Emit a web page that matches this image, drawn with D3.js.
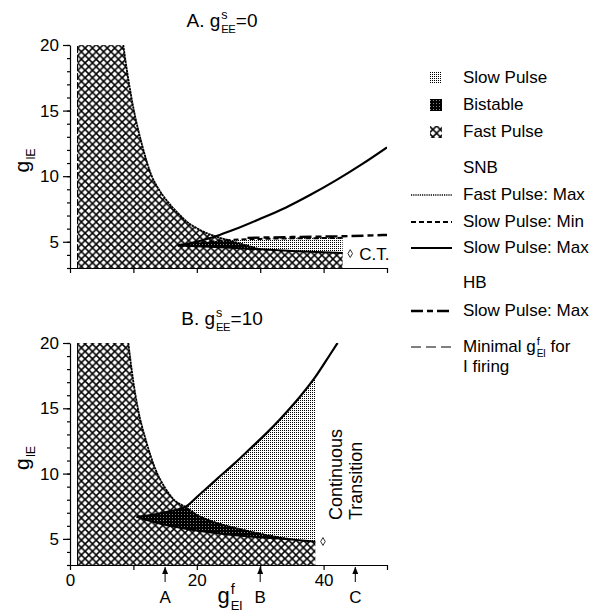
<!DOCTYPE html>
<html lang="en">
<head>
<meta charset="UTF-8">
<title>Fast / slow pulse regions in the gEI - gIE plane</title>
<script src="https://d3js.org/d3.v7.min.js"></script>
<style>
  body { margin: 0; background: #fff; }
  svg { display: block; font-family: "Liberation Sans", Arial, sans-serif; }
  .axis text { font-size: 17px; fill: #000; font-family: "Liberation Sans", Arial, sans-serif; }
  .axis path, .axis line { stroke: #000; stroke-width: 1.2; }
  .lbl { font-size: 17px; fill: #000; white-space: pre; }
</style>
</head>
<body>
<svg id="chart" width="609" height="612"></svg>
<script>
// ---- values: [gEI, gIE] ----
const xTicks = [0, 10, 20, 30, 40, 50];
const xTickLabels = [0, 20, 40];
const yMinorTicks = [3, 4, 5, 6, 7, 8, 9, 10, 11, 12, 13, 14, 15, 16, 17, 18, 19, 20];
const yMajorTicks = [5, 10, 15, 20];

const minFiringEI = 1.2;   // minimal gEI for I firing (left edge)

// panel A, gEE = 0
const fastA = [[8.4, 20], [9, 18], [10, 15.2], [11.3, 12.5], [12.9, 10], [14, 9.0], [15.5, 8.0],
               [17, 7.2], [18.5, 6.5], [20.5, 5.9], [23, 5.4], [25, 5.12], [27.5, 4.77], [30, 4.42]];
const riseA = [[17, 4.72], [20, 5.0], [23, 5.42], [26, 5.95], [30, 6.75], [34, 7.6], [38, 8.6],
               [42, 9.7], [46, 10.9], [50, 12.2]];
const lowA  = [[17, 4.72], [22, 4.62], [26, 4.52], [30, 4.42], [35, 4.3], [40, 4.2], [43, 4.15]];
const minA  = [[17, 4.72], [20, 4.9], [23, 5.05], [25, 5.12], [27, 5.18], [30, 5.22], [35, 5.26],
               [40, 5.28], [43, 5.3]];
const hbA   = [[28, 5.3], [35, 5.36], [43, 5.42], [50, 5.52]];
const ctA   = [44.2, 4.1];

// panel B, gEE = 10
const fastB = [[9.2, 20], [10, 17], [10.7, 15], [12, 12.5], [13.5, 10.3], [15, 8.9], [16.5, 7.95],
               [18.2, 7.45], [20, 6.85], [23, 6.25], [26, 5.85], [30, 5.4], [35, 4.95]];
const riseB = [[10.5, 6.7], [13, 6.85], [15.5, 7.1], [18.2, 7.45], [20, 8.2], [23.2, 9.6],
               [26, 10.8], [28.4, 11.9], [31, 13.1], [33.2, 14.2], [36.3, 15.9], [38.7, 17.4],
               [41, 19.1], [42.2, 20]];
const lowB  = [[10.5, 6.7], [14, 6.2], [18, 5.8], [22, 5.5], [26, 5.28], [30, 5.12], [35, 4.95],
               [38.7, 4.78]];
const ctB   = [39.9, 4.8];

const arrowMarks = [{ label: "A", x: 15 }, { label: "B", x: 30 }, { label: "C", x: 45 }];

const legendAreas = [
  { label: "Slow Pulse", fill: "url(#slow)" },
  { label: "Bistable", fill: "url(#bist)" },
  { label: "Fast Pulse", fill: "url(#hatch)" }
];
const legendLines = [
  { head: "SNB" },
  { label: "Fast Pulse: Max", dash: "1.2,1", width: 1.6 },
  { label: "Slow Pulse: Min", dash: "5,3", width: 2 },
  { label: "Slow Pulse: Max", dash: null, width: 2 },
  { head: "HB" },
  { label: "Slow Pulse: Max", dash: "12,4,6,4", width: 2.6 },
  { rich: true, dash: "10,5", width: 1 }
];

// ---- setup ----
const svg = d3.select("#chart");
const x = d3.scaleLinear().domain([0, 50]).range([70, 387]);
const panels = [
  { y: d3.scaleLinear().domain([3, 20]).range([268, 45]), top: 45, bottom: 268, id: "A" },
  { y: d3.scaleLinear().domain([3, 20]).range([565, 343]), top: 343, bottom: 565, id: "B" }
];

const defs = svg.append("defs");
// cross hatch
const ph = defs.append("pattern").attr("id", "hatch").attr("patternUnits", "userSpaceOnUse")
  .attr("width", 7.4).attr("height", 7.4);
ph.append("rect").attr("width", 7.4).attr("height", 7.4).attr("fill", "#fff");
ph.append("path").attr("d", "M-1,-1L8.4,8.4M-1,8.4L8.4,-1").attr("stroke", "#000").attr("stroke-width", 1.5);
// stipple
const ps = defs.append("pattern").attr("id", "slow").attr("patternUnits", "userSpaceOnUse")
  .attr("width", 2).attr("height", 2);
ps.append("rect").attr("width", 2).attr("height", 2).attr("fill", "#fff");
ps.append("rect").attr("width", 1).attr("height", 1).attr("fill", "#000");
// bistable
const pb = defs.append("pattern").attr("id", "bist").attr("patternUnits", "userSpaceOnUse")
  .attr("width", 3).attr("height", 3);
pb.append("rect").attr("width", 3).attr("height", 3).attr("fill", "#000");
pb.append("rect").attr("x", 1).attr("y", 1).attr("width", 1).attr("height", 1).attr("fill", "#888");
// arrow head
defs.append("marker").attr("id", "arr").attr("viewBox", "0 0 6 8").attr("refX", 3).attr("refY", 0)
  .attr("markerWidth", 6).attr("markerHeight", 8).attr("markerUnits", "userSpaceOnUse").attr("orient", "0")
  .append("path").attr("d", "M0,7L3,0L6,7Z").attr("fill", "#000");

// text with stacked sup/sub parts
function rich(parent, parts, px, py, size, anchor, rot) {
  const g = parent.append("g");
  let cx = 0;
  parts.forEach(p => {
    if (p.t !== undefined) {
      const t = g.append("text").attr("x", cx).attr("y", 0).style("font-size", size + "px")
        .style("white-space", "pre").text(p.t);
      cx += t.node().getComputedTextLength();
    } else {
      const s = size * 0.66;
      let w = 0;
      if (p.sup) {
        const t = g.append("text").attr("x", cx + 1).attr("y", -size * 0.42)
          .style("font-size", s + "px").text(p.sup);
        w = Math.max(w, t.node().getComputedTextLength());
      }
      if (p.sub) {
        const t = g.append("text").attr("x", cx + 1).attr("y", size * 0.3)
          .style("font-size", (s * 0.9) + "px").style("letter-spacing", "-0.5px").text(p.sub);
        w = Math.max(w, t.node().getComputedTextLength());
      }
      cx += w + 1.5;
    }
  });
  const off = anchor === "middle" ? -cx / 2 : anchor === "end" ? -cx : 0;
  g.attr("transform", `translate(${px},${py})${rot ? ` rotate(${rot})` : ""} translate(${off},0)`);
  return g;
}

function poly(y, pts) {
  return d3.line().x(d => x(d[0])).y(d => y(d[1]))(pts) + "Z";
}
function curve(g, y, pts, dash, width) {
  g.append("path").attr("d", d3.line().curve(d3.curveMonotoneX).x(d => x(d[0])).y(d => y(d[1]))(pts))
    .attr("fill", "none").attr("stroke", "#000").attr("stroke-width", width)
    .attr("stroke-dasharray", dash);
}

panels.forEach(P => {
  const y = P.y;
  const g = svg.append("g");
  defs.append("clipPath").attr("id", "clip" + P.id).append("rect")
    .attr("x", x(0)).attr("y", P.top).attr("width", x(50) - x(0)).attr("height", P.bottom - P.top);
  const plot = g.append("g").attr("clip-path", `url(#clip${P.id})`);

  let fast, slow, bist, fastLine, rise, low;
  if (P.id === "A") {
    fast = [[minFiringEI, 3], [minFiringEI, 20]].concat(fastA, lowA.filter(d => d[0] > 30), [[43, 3]]);
    slow = minA.concat(lowA.slice().reverse());
    bist = minA.filter(d => d[0] <= 25).concat(fastA.filter(d => d[0] > 25),
                                               lowA.filter(d => d[0] < 30).reverse());
    fastLine = fastA; rise = riseA; low = lowA;
  } else {
    fast = [[minFiringEI, 3], [minFiringEI, 20]].concat(fastB, lowB.filter(d => d[0] > 35), [[38.7, 3]]);
    slow = riseB.filter(d => d[0] <= 38.7).concat(lowB.slice().reverse());
    bist = riseB.filter(d => d[0] <= 18.2).concat(fastB.filter(d => d[0] > 18.2),
                                                 lowB.filter(d => d[0] < 35).reverse());
    fastLine = fastB; rise = riseB; low = lowB;
  }
  plot.append("path").attr("d", poly(y, slow)).attr("fill", "url(#slow)");
  plot.append("path").attr("d", poly(y, fast)).attr("fill", "url(#hatch)");
  plot.append("path").attr("d", poly(y, bist)).attr("fill", "url(#bist)");

  plot.append("path").attr("d", poly(y, [[minFiringEI, 3], [minFiringEI, 20]]))
    .attr("fill", "none").attr("stroke", "#000").attr("stroke-width", 1).attr("stroke-dasharray", "6,3");
  curve(plot, y, fastLine, "2.5,0.6", 1.8);
  curve(plot, y, low, null, 2);
  curve(plot, y, rise, null, 2.2);
  if (P.id === "A") {
    curve(plot, y, minA, "5,3", 2);
    curve(plot, y, hbA, "12,4,6,4", 2.4);
  }

  const ct = P.id === "A" ? ctA : ctB;
  g.append("path").attr("d", d3.symbol(d3.symbolDiamond, 18)())
    .attr("transform", `translate(${x(ct[0])},${y(ct[1])})`)
    .attr("fill", "#fff").attr("stroke", "#000").attr("stroke-width", 0.8);

  // axes
  g.append("g").attr("class", "axis").attr("transform", `translate(${x(0)},0)`)
    .call(d3.axisLeft(y).tickValues(yMinorTicks).tickSize(3).tickSizeOuter(0).tickFormat(""));
  g.append("g").attr("class", "axis").attr("transform", `translate(${x(0)},0)`)
    .call(d3.axisLeft(y).tickValues(yMajorTicks).tickSize(7).tickPadding(4).tickSizeOuter(0))
    .call(a => a.select(".domain").remove());
  g.append("g").attr("class", "axis").attr("transform", `translate(0,${P.bottom})`)
    .call(d3.axisBottom(x).tickValues(xTicks).tickSize(5).tickPadding(4).tickSizeOuter(0)
      .tickFormat(d => (P.id === "B" && xTickLabels.includes(d)) ? d : ""));

  // y label
  rich(g, [{ t: "g" }, { sub: "IE" }], 29, (P.top + P.bottom) / 2 + 4, 21, "middle", -90);
  // title
  rich(g, [{ t: P.id + ". g" }, { sup: "s", sub: "EE" }, { t: P.id === "A" ? "=0" : "=10" }],
       222, P.top - 18, 19, "middle");
});

// annotations
const yA = panels[0].y;
svg.append("text").attr("class", "lbl").attr("x", x(ctA[0]) + 9).attr("y", yA(ctA[1]) + 6).text("C.T.");
const tr = svg.append("g").attr("transform", `translate(342,520) rotate(-90)`);
tr.append("text").attr("class", "lbl").attr("x", 0).attr("y", 0).style("font-size", "18px").text("Continuous");
tr.append("text").attr("class", "lbl").attr("x", 0).attr("y", 20).style("font-size", "18px").text("Transition");

// arrows under panel B
arrowMarks.forEach(m => {
  svg.append("line").attr("x1", x(m.x)).attr("x2", x(m.x)).attr("y1", 582).attr("y2", 567)
    .attr("stroke", "#000").attr("stroke-width", 1).attr("marker-end", "url(#arr)");
  svg.append("text").attr("class", "lbl").attr("x", x(m.x)).attr("y", 603)
    .attr("text-anchor", "middle").text(m.label);
});
rich(svg, [{ t: "g" }, { sup: "f", sub: "EI" }], 230, 603, 22, "middle");

// legend
const lg = svg.append("g");
legendAreas.forEach((d, i) => {
  const yy = 83 + i * 27;
  lg.append("rect").attr("x", 430).attr("y", yy - 11).attr("width", 12).attr("height", 12)
    .attr("fill", d.fill);
  lg.append("text").attr("class", "lbl").attr("x", 463).attr("y", yy).text(d.label);
});
const lineRowsY = [173, 200, 227, 253, 288, 316, 352];
legendLines.forEach((d, i) => {
  const yy = lineRowsY[i];
  if (d.head) {
    lg.append("text").attr("class", "lbl").attr("x", 463).attr("y", yy).text(d.head);
    return;
  }
  lg.append("line").attr("x1", 411).attr("x2", 452).attr("y1", yy - 5).attr("y2", yy - 5)
    .attr("stroke", "#000").attr("stroke-width", d.width).attr("stroke-dasharray", d.dash);
  if (d.rich) {
    rich(lg, [{ t: "Minimal g" }, { sup: "f", sub: "EI" }, { t: " for" }], 463, yy, 17, "start")
      .selectAll("text").attr("class", "lbl");
    lg.append("text").attr("class", "lbl").attr("x", 463).attr("y", yy + 20).text("I firing");
  } else {
    lg.append("text").attr("class", "lbl").attr("x", 463).attr("y", yy).text(d.label);
  }
});
</script>
</body>
</html>
